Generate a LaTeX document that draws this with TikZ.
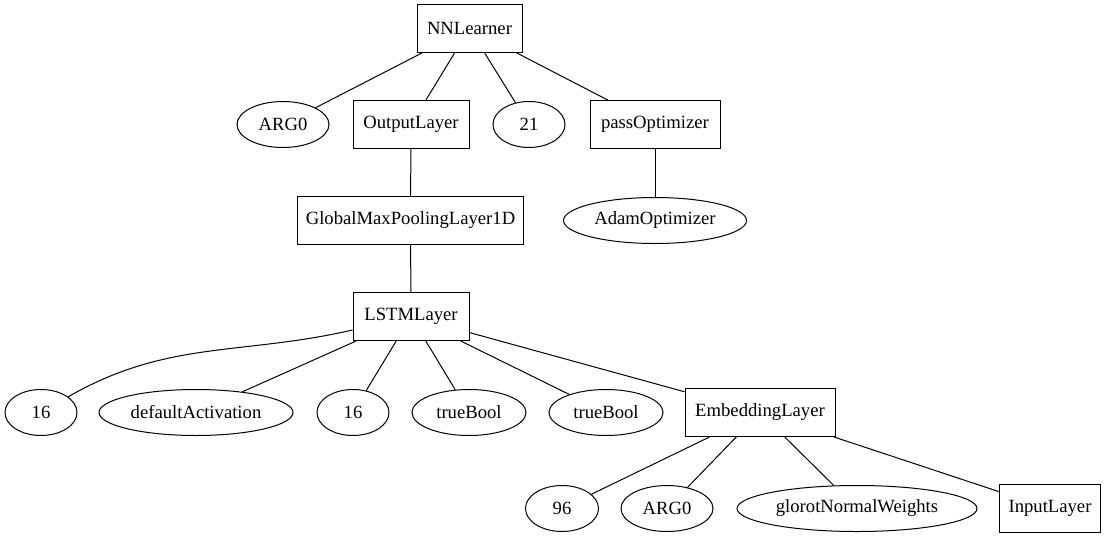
\documentclass[tikz,border=0pt]{standalone}
\usepackage{fontspec}
\IfFontExistsTF{LiberationSerif-Regular.ttf}
  {\newfontfamily\timesfam{LiberationSerif-Regular.ttf}}
  {\newfontfamily\timesfam{Liberation Serif}}
\usetikzlibrary{shapes.geometric}
\begin{document}
\begin{tikzpicture}[x=0.75pt,y=-0.75pt,
  every node/.style={font=\timesfam\fontsize{14}{16}\selectfont, line width=0.75pt},
  box/.style={draw, rectangle, minimum height=36pt, inner sep=0pt},
  ell/.style={draw, ellipse, minimum height=34.5pt, inner sep=0pt},
  edge/.style={line width=0.75pt}]
\fill[white] (0,0) rectangle (1106,539);
\useasboundingbox (0,0) rectangle (1106,539);
% rank 0
\node[box, minimum width=78.75pt] (nn) at (469.5,28.5) {NNLearner};
% rank 1
\node[ell, minimum width=69pt] (arg0a) at (283,124.5) {ARG0};
\node[box, minimum width=87pt] (out) at (411,124.5) {OutputLayer};
\node[ell, minimum width=54pt] (n21) at (529,124.5) {21};
\node[box, minimum width=97.5pt] (pass) at (655,124.5) {passOptimizer};
% rank 2
\node[box, minimum width=169.5pt] (gmp) at (410.5,220.5) {GlobalMaxPoolingLayer1D};
\node[ell, minimum width=137.25pt] (adam) at (655,220.5) {AdamOptimizer};
% rank 3
\node[box, minimum width=87pt] (lstm) at (411,316.5) {LSTMLayer};
% rank 4
\node[ell, minimum width=54pt] (s16a) at (41,412.5) {16};
\node[ell, minimum width=145.5pt] (act) at (196,412.5) {defaultActivation};
\node[ell, minimum width=54pt] (s16b) at (353,412.5) {16};
\node[ell, minimum width=85.5pt] (tb1) at (469,412.5) {trueBool};
\node[ell, minimum width=85.5pt] (tb2) at (606,412.5) {trueBool};
\node[box, minimum width=112.5pt] (emb) at (760,412.5) {EmbeddingLayer};
% rank 5
\node[ell, minimum width=54.75pt] (n96) at (562,508.5) {96};
\node[ell, minimum width=69pt] (arg0b) at (667,508.5) {ARG0};
\node[ell, minimum width=180pt] (glorot) at (857,508.5) {glorotNormalWeights};
\node[box, minimum width=75.75pt] (inp) at (1050,508.5) {InputLayer};
% edges
\draw[edge] (nn) -- (arg0a);
\draw[edge] (nn) -- (out);
\draw[edge] (nn) -- (n21);
\draw[edge] (nn) -- (pass);
\draw[edge] (out) -- (gmp);
\draw[edge] (pass) -- (adam);
\draw[edge] (gmp) -- (lstm);
\draw[edge] (lstm) to[out=193,in=30] (s16a);
\draw[edge] (lstm) -- (act);
\draw[edge] (lstm) -- (s16b);
\draw[edge] (lstm) -- (tb1);
\draw[edge] (lstm) -- (tb2);
\draw[edge] (lstm) -- (emb);
\draw[edge] (emb) -- (n96);
\draw[edge] (emb) -- (arg0b);
\draw[edge] (emb) -- (glorot);
\draw[edge] (emb) -- (inp);
\end{tikzpicture}
\end{document}
